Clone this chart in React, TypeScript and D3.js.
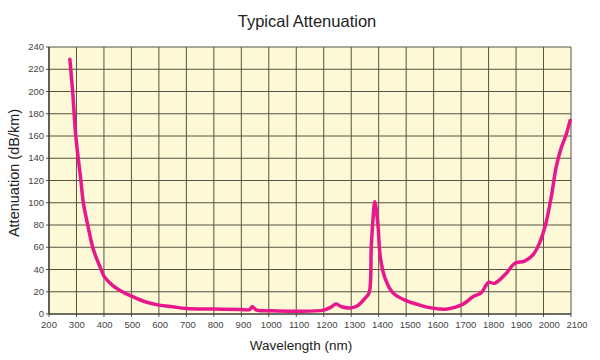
import React from 'react';
import * as d3 from 'd3';

// wavelength in nm, attenuation in dB/km
const wavelengths = [
  276, 286, 298, 316, 325, 341, 359, 373, 390, 400, 430, 460, 500, 550, 600,
  650, 700, 800, 900, 930, 940, 955, 1000, 1100, 1200, 1225, 1245, 1265, 1295,
  1320, 1350, 1365, 1373, 1379, 1386, 1397, 1406, 1422, 1452, 1500, 1550, 1585,
  1620, 1650, 1700, 1720, 1743, 1773, 1800, 1822, 1864, 1895, 1931, 1961, 1985,
  2007, 2028, 2046, 2064, 2082, 2097,
];
const attenuation = [
  229, 200, 159, 120, 100, 80, 60, 50, 40, 34, 26, 21, 16, 11, 8,
  6.5, 5, 4.5, 4, 4, 6.5, 3.5, 3, 2.5, 3.5, 6, 9, 6.5, 5.5,
  7, 14, 19, 60, 84, 101, 81, 51, 33, 19, 12, 8, 5.7,
  4.5, 4.5, 8, 11, 15.6, 19, 28.5, 27.6, 36.5, 45.5, 47.6, 53, 63.5,
  80, 105, 132, 149, 161, 174,
];
const xTicks = d3.range(200, 2101, 100);
const yTicks = d3.range(0, 241, 20);

const title = 'Typical Attenuation';
const xTitle = 'Wavelength (nm)';
const yTitle = 'Attenuation (dB/km)';

const W = 600;
const H = 360;
const margin = { top: 47, right: 29, bottom: 46, left: 49 };

export default function App() {
  const x = d3.scaleLinear().domain([200, 2100]).range([margin.left, W - margin.right]);
  // tick labels drift slightly wider than the grid in the original
  const xLabel = d3.scaleLinear().domain([200, 2100]).range([margin.left, W - margin.right + 6]);
  const y = d3.scaleLinear().domain([0, 240]).range([H - margin.bottom, margin.top]);

  const points = wavelengths.map((w, i) => [w, attenuation[i]] as [number, number]);
  const line = d3
    .line<[number, number]>()
    .x((d) => x(d[0]))
    .y((d) => y(d[1]))
    .curve(d3.curveCatmullRom.alpha(0.5));

  const font = 'Liberation Sans, Arial, Helvetica, sans-serif';
  const [x0, x1] = x.range();
  const [y0, y1] = y.range();

  return (
    <svg
      width={W}
      height={H}
      style={{ position: 'absolute', left: 0, top: 0, background: '#fff' }}
      fontFamily={font}
    >
      <rect x={x0} y={y1} width={x1 - x0} height={y0 - y1} fill="#fdf9d6" />

      {xTicks.map((t) => (
        <line key={'gx' + t} x1={x(t)} x2={x(t)} y1={y1} y2={y0 + 3} stroke="#555342" strokeWidth={1} />
      ))}
      {yTicks.map((t) => (
        <line key={'gy' + t} x1={x0 - 3} x2={x1} y1={y(t)} y2={y(t)} stroke="#555342" strokeWidth={1} />
      ))}
      <line x1={x0} x2={x0} y1={y1} y2={y0} stroke="#333" strokeWidth={1.2} />
      <line x1={x0} x2={x1} y1={y0} y2={y0} stroke="#333" strokeWidth={1.2} />

      {xTicks.map((t) => (
        <text key={'lx' + t} x={xLabel(t)} y={y0 + 14} textAnchor="middle" fontSize={9.5} fill="#444">
          {t}
        </text>
      ))}
      {yTicks.map((t) => (
        <text key={'ly' + t} x={x0 - 5} y={y(t) + 3} textAnchor="end" fontSize={9.5} fill="#444">
          {t}
        </text>
      ))}

      <path d={line(points) || ''} fill="none" stroke="#e8178b" strokeWidth={3.5} strokeLinejoin="round" strokeLinecap="round" />

      <text x={307} y={27} textAnchor="middle" fontSize={16.5} fill="#222">
        {title}
      </text>
      <text x={301} y={350} textAnchor="middle" fontSize={13.5} fill="#222">
        {xTitle}
      </text>
      <text
        transform={`translate(19,173) rotate(-90)`}
        textAnchor="middle"
        fontSize={14.5}
        fill="#222"
      >
        {yTitle}
      </text>
    </svg>
  );
}
